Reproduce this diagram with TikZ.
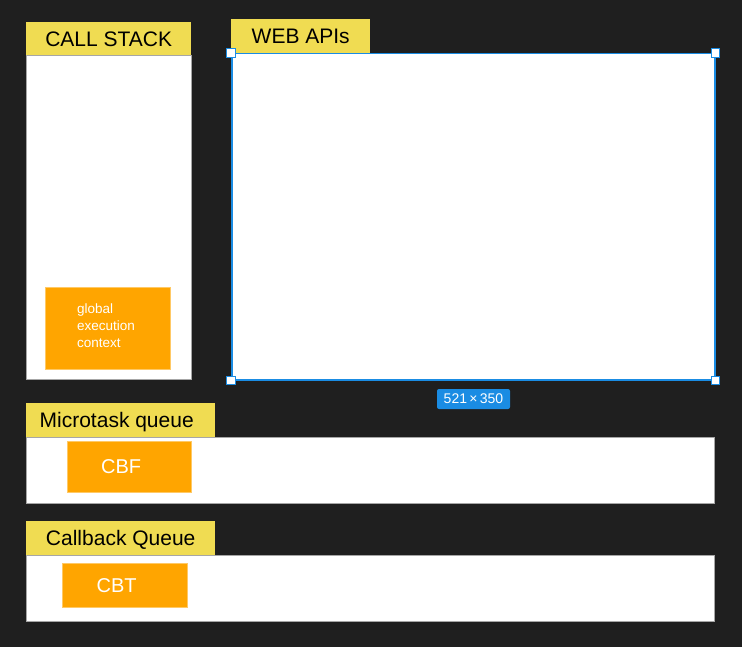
\documentclass[tikz,border=0pt]{standalone}
\usepackage{fontspec}
\setmainfont{Liberation Sans}
\definecolor{bgdark}{HTML}{1F1F1F}
\definecolor{headyellow}{HTML}{F0DC52}
\definecolor{joborange}{HTML}{FFA500}
\definecolor{selblue}{HTML}{1A8CE3}

\begin{document}
\begin{tikzpicture}[x=1pt,y=-1pt,
    panel/.style ={fill=white, draw=gray!70, line width=0.4pt, anchor=north west, inner sep=0pt},
    heading/.style ={fill=headyellow, anchor=north west, inner sep=0pt, text depth=0pt, font=\fontsize{21}{25}\selectfont},
    job/.style ={fill=joborange, draw=joborange!60!white, anchor=north west, inner sep=0pt, text=white, font=\fontsize{20}{24}\selectfont},
    handle/.style ={rectangle, draw=selblue, fill=white, line width=1pt, inner sep=0pt, minimum size=8.5pt}]
   \fill[bgdark] (0,0) rectangle (742,647);
   \node[panel, minimum width=165, minimum height=324] (stack) at (26,55) {};
   \node[heading, minimum width=165, minimum height=33] (stacktitle) at (26,22) {CALL STACK};
   \node[job, minimum width=125, minimum height=82] (gec) at (45,287) {};
   \node[anchor=west, align=left, text=white, inner sep=0pt, font=\fontsize{13.5}{17}\selectfont] (gectext) at ([xshift=32pt,yshift=3pt]gec.west) {global\\execution\\context};
   \node[heading, minimum width=139, minimum height=34] (webtitle) at (231,19) {WEB APIs};
   \node[panel, draw=selblue, line width=1.5pt, minimum width=483, minimum height=326] (webapis) at (231,53) {};
   \node[handle] (hnw) at (webapis.north west) {};
   \node[handle] (hne) at (webapis.north east) {};
   \node[handle] (hsw) at (webapis.south west) {};
   \node[handle] (hse) at (webapis.south east) {};
   \node[rectangle, rounded corners=2pt, fill=selblue, text=white, inner sep=0pt, minimum width=73, minimum height=20, font=\fontsize{14}{16}\selectfont] (size) at (473.5,399) {521\,×\,350};
   \node[panel, minimum width=688, minimum height=66] (micro) at (26,437) {};
   \node[heading, minimum width=189, minimum height=34] (microtitle) at (26,403) {\hspace*{-8pt}Microtask queue};
   \node[job, minimum width=124, minimum height=51] (cbf) at (67,441) {\hspace*{-16pt}CBF};
   \node[panel, minimum width=688, minimum height=66] (callback) at (26,555) {};
   \node[heading, minimum width=189, minimum height=34] (callbacktitle) at (26,521) {Callback Queue};
   \node[job, minimum width=125, minimum height=44] (cbt) at (62,563) {\hspace*{-16pt}CBT};
 \end{tikzpicture}
\end{document}
